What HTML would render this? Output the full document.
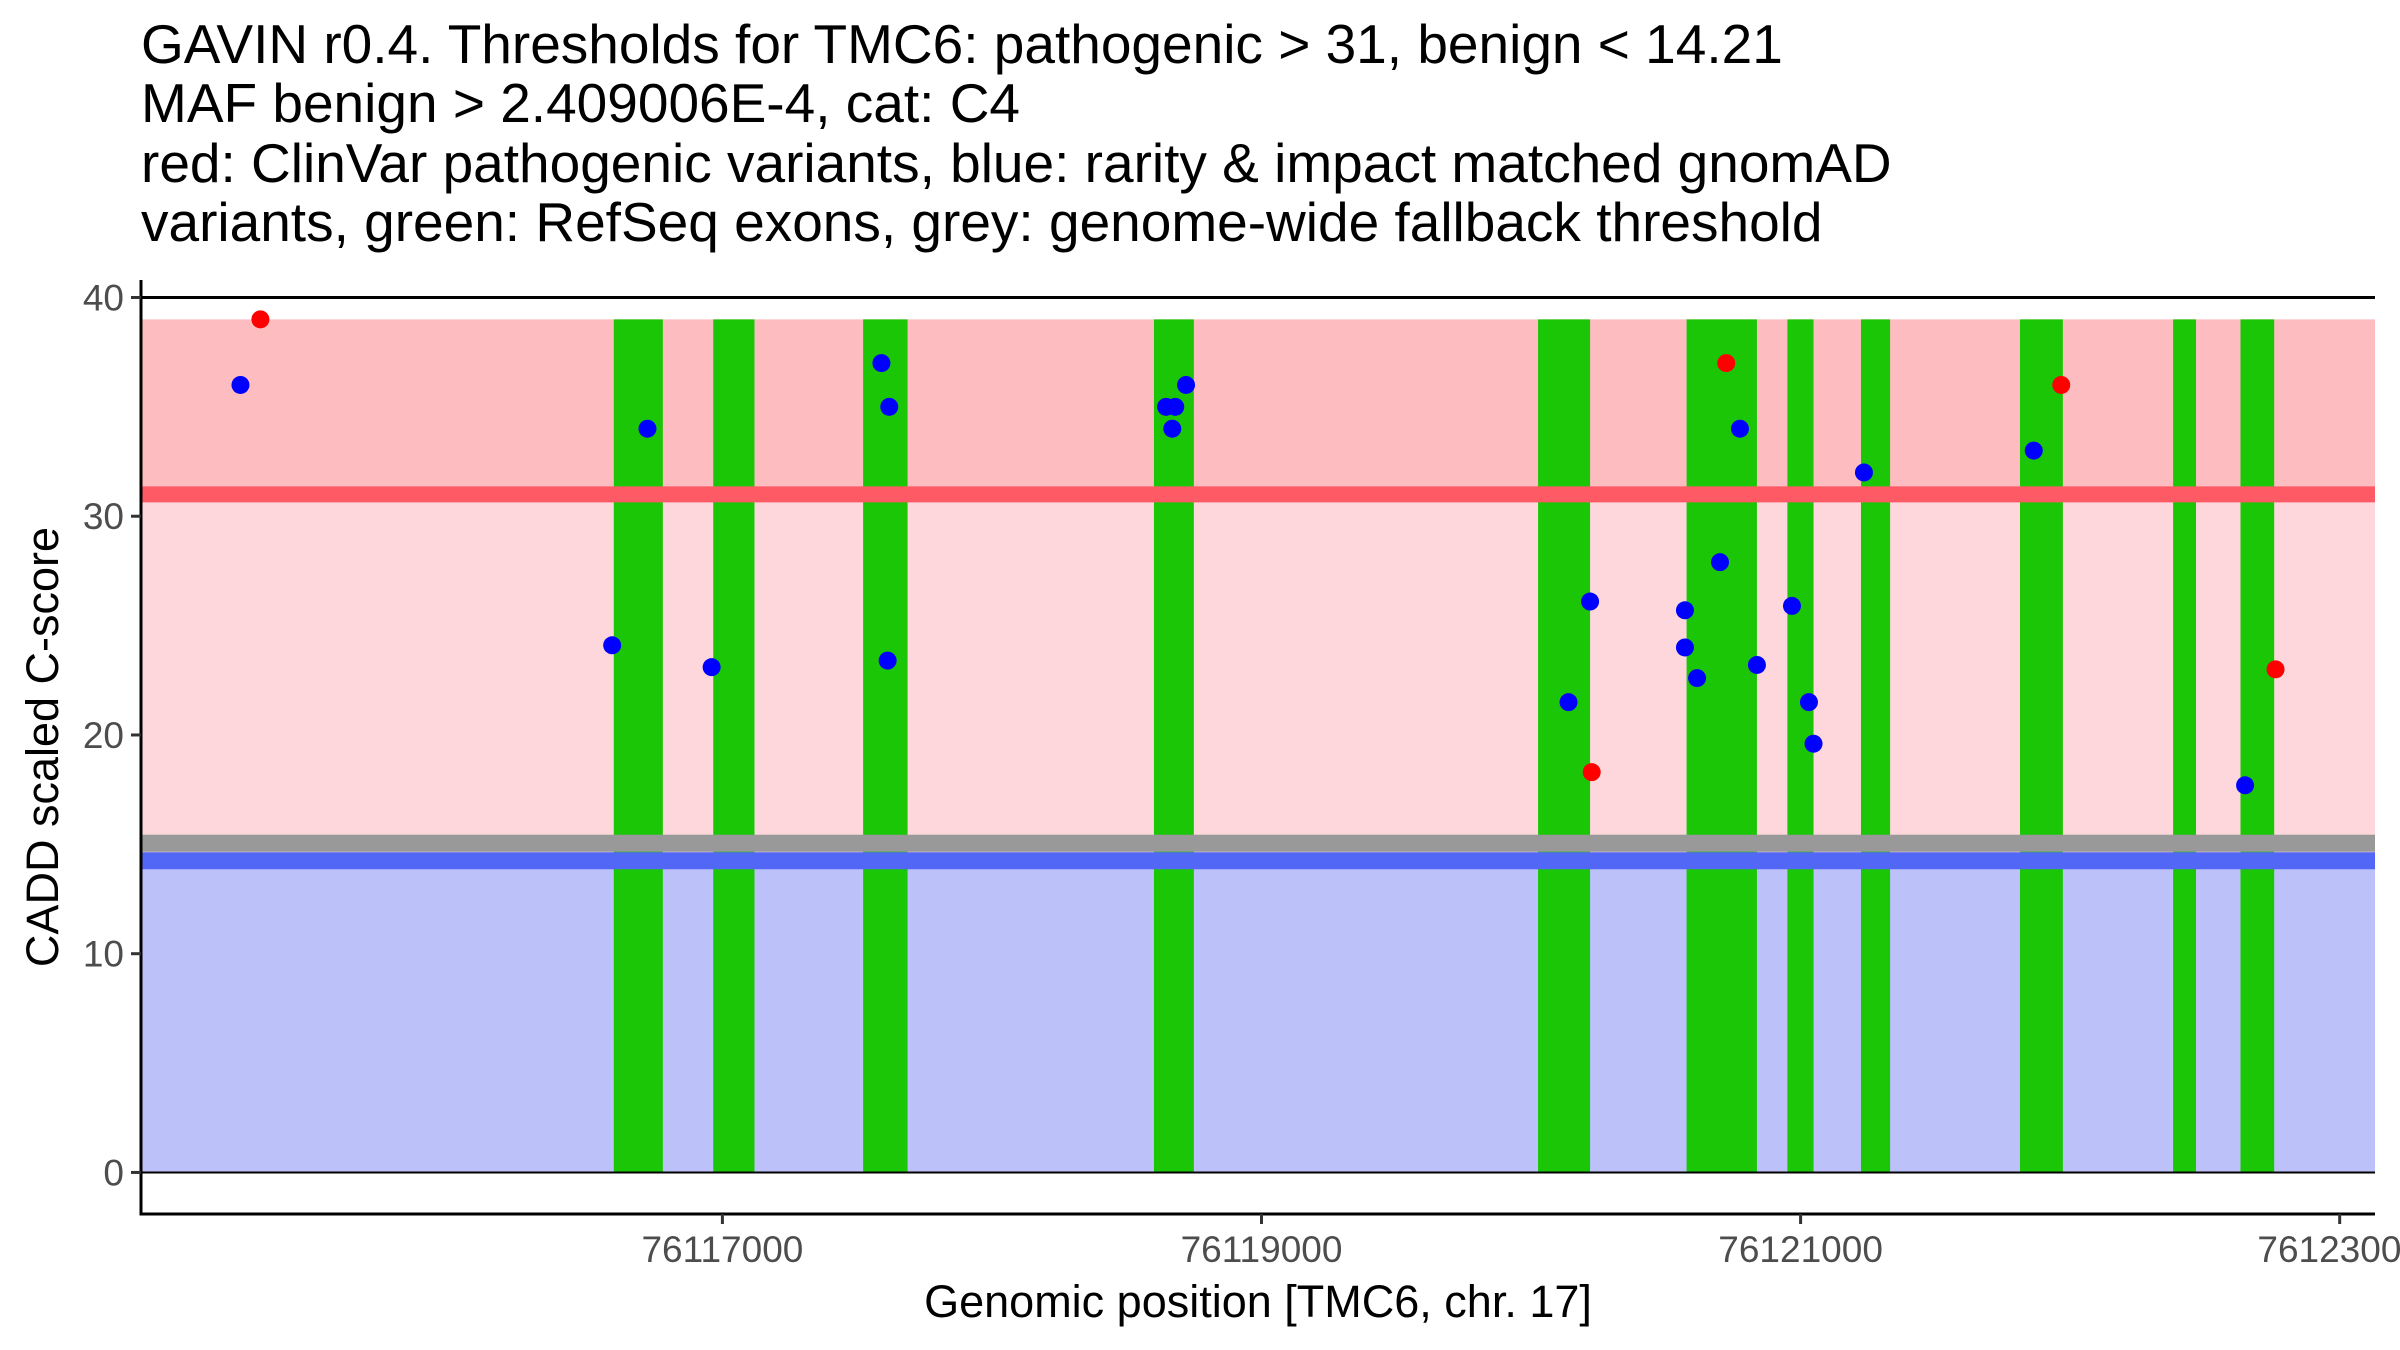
<!DOCTYPE html>
<html><head><meta charset="utf-8"><style>
html,body{margin:0;padding:0;background:#fff;}
svg{display:block;font-family:"Liberation Sans",Arial,sans-serif;}
</style></head><body>
<svg id="chart" width="2400" height="1350" viewBox="0 0 2400 1350">
<g font-size="55" fill="#000">
<text x="141" y="63">GAVIN r0.4. Thresholds for TMC6: pathogenic &gt; 31, benign &lt; 14.21</text>
<text x="141" y="122">MAF benign &gt; 2.409006E-4, cat: C4</text>
<text x="141" y="182">red: ClinVar pathogenic variants, blue: rarity &amp; impact matched gnomAD</text>
<text x="141" y="241">variants, green: RefSeq exons, grey: genome-wide fallback threshold</text>
</g>
<g id="bands"></g>
<g id="exons"></g>
<g id="hlines"></g>
<g id="points"></g>
<g id="axes"></g>
<text x="0" y="0" font-size="45" text-anchor="middle" transform="translate(58,747) rotate(-90)">CADD scaled C-score</text>
<text x="1258" y="1317" font-size="45" text-anchor="middle">Genomic position [TMC6, chr. 17]</text>
</svg>
<script>
const exonStarts=[76116597,76116966,76117522,76118601,76120026,76120577,76120951,76121224,76121814,76122382,76122632];
const exonEnds=[76116779,76117119,76117687,76118749,76120219,76120838,76121048,76121332,76121973,76122467,76122757];
const pathPos=[76115286,76120225,76120724,76121967,76122762];
const pathScore=[39,18.3,37,36,23];
const benPos=[76115212,76116591,76116722,76116960,76117590,76117619,76117613,76118646,76118680,76118669,76118720,76120139,76120219,76120571,76120571,76120616,76120701,76120775,76120838,76120968,76121031,76121048,76121235,76121865,76122649];
const benScore=[36,24.1,34,23.1,37,35,23.4,35,35,34,36,21.5,26.1,25.7,24,22.6,27.9,34,23.2,25.9,21.5,19.6,32,33,17.7];
const yTicks=[0,10,20,30,40];
const xTicks=[76117000,76119000,76121000,76123000];
const xMin=76114843,xMax=76123131,yMin=-1.9,yMax=40.8;
const L=141,R=2375,T=280,B=1214;
const X=v=>L+(v-xMin)/(xMax-xMin)*(R-L);
const Y=v=>B-(v-yMin)/(yMax-yMin)*(B-T);
const NS="http://www.w3.org/2000/svg";
function mk(tag,attrs,parent){const e=document.createElementNS(NS,tag);for(const k in attrs)e.setAttribute(k,attrs[k]);document.getElementById(parent).appendChild(e);return e;}
let b;
b=mk('rect',{x:L,y:Y(39),width:R-L,height:Y(31)-Y(39),fill:'#fdbcc0'},'bands');


b=mk('rect',{x:L,y:Y(31),width:R-L,height:Y(14.21)-Y(31),fill:'#fdd7dc'},'bands');


b=mk('rect',{x:L,y:Y(14.21),width:R-L,height:Y(0)-Y(14.21),fill:'#bcc1f9'},'bands');


let h;
h=mk('rect',{x:L,y:Y(31)-8,width:R-L,height:16,fill:'#fe5a66'},'hlines');


h=mk('rect',{x:L,y:Y(15.05)-8.5,width:R-L,height:17,fill:'#999999'},'hlines');


h=mk('rect',{x:L,y:Y(14.25)-8.5,width:R-L,height:17,fill:'#5267f5'},'hlines');


for(let i=0;i<exonStarts.length;i++){
const e=mk('rect',{x:X(exonStarts[i]),y:Y(39),width:X(exonEnds[i])-X(exonStarts[i]),height:Y(0)-Y(39),fill:'#1bc606'},'exons');


}
h=mk('line',{x1:L,x2:R,y1:Y(40),y2:Y(40),stroke:'#000','stroke-width':3},'hlines');


h=mk('line',{x1:L,x2:R,y1:Y(0),y2:Y(0),stroke:'#000','stroke-width':2},'hlines');


for(let i=0;i<benPos.length;i++){
const c=mk('circle',{cx:X(benPos[i]),cy:Y(benScore[i]),r:9,fill:'#0000ff'},'points');


}
for(let i=0;i<pathPos.length;i++){
const c=mk('circle',{cx:X(pathPos[i]),cy:Y(pathScore[i]),r:9,fill:'#ff0000'},'points');


}
let a;
a=mk('line',{x1:L,x2:L,y1:T,y2:B+1.5,stroke:'#000','stroke-width':3},'axes');


a=mk('line',{x1:L-1.5,x2:R,y1:B,y2:B,stroke:'#000','stroke-width':3},'axes');


yTicks.forEach(t=>{
const tk=mk('line',{x1:L-10,x2:L,y1:Y(t),y2:Y(t),stroke:'#333','stroke-width':3},'axes');


const tx=mk('text',{x:L-17,y:Y(t)+13,'font-size':37,'text-anchor':'end',fill:'#4d4d4d'},'axes');
tx.textContent=t;


});
xTicks.forEach(t=>{
const tk=mk('line',{x1:X(t),x2:X(t),y1:B,y2:B+10,stroke:'#333','stroke-width':3},'axes');


const tx=mk('text',{x:X(t),y:1262,'font-size':37,'text-anchor':'middle',fill:'#4d4d4d'},'axes');
tx.textContent=t;


});
</script>
</body></html>
